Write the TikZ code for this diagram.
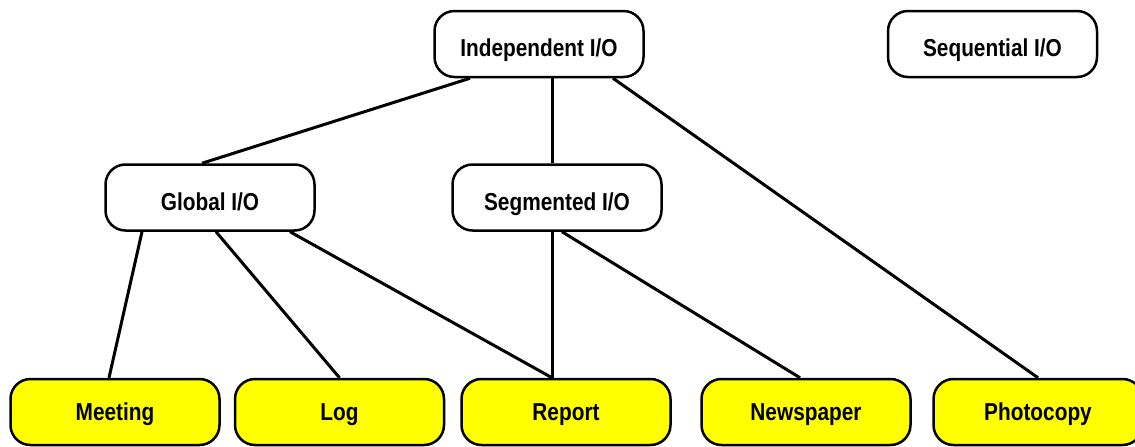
\documentclass[tikz,border=0pt]{standalone}
\usepackage{fontspec}
\setmainfont{Liberation Sans}[FakeStretch=0.85]
\definecolor{leafyellow}{RGB}{255,255,0}
\tikzset{iobox/.style={draw,line width=2.5pt,rounded corners=20pt,minimum width=209pt,minimum height=66pt,text height=25pt,text depth=0pt,font=\fontsize{24.5}{28}\selectfont\bfseries},
    leafbox/.style={iobox,fill=leafyellow,text height=17.5pt}}
\begin{document}
\begin{tikzpicture}[x=1pt,y=-1pt,line width=3pt]
    \useasboundingbox (0,0) rectangle (1135,447);
        \node[iobox] (ind) at (539,44) {Independent I/O};
        \node[iobox] (seq) at (992.5,44) {Sequential I/O};
        \node[iobox] (glob) at (210,197.5) {Global I/O};
        \node[iobox] (seg) at (557,197.5) {Segmented I/O};
    \foreach \nm/\lbl/\x in {meet/Meeting/115, log/Log/339.5, rep/Report/566, news/Newspaper/806, photo/Photocopy/1038} \node[leafbox] (\nm) at (\x,412) {\lbl};
    % links from the top level
        \draw ([xshift=-69pt]ind.south) -- ([xshift=-8pt]glob.north);
        \draw ([xshift=13pt]ind.south) -- ([xshift=-5pt]seg.north);
        \draw ([xshift=74pt]ind.south) -- (photo.north);
    % links to the leaves
        \draw ([xshift=-68pt]glob.south) -- ([xshift=-6pt]meet.north);
        \draw ([xshift=6pt]glob.south) -- (log.north);
        \draw ([xshift=80pt]glob.south) -- ([xshift=-14pt]rep.north);
        \draw ([xshift=-5pt]seg.south) -- ([xshift=-14pt]rep.north);
        \draw ([xshift=5pt]seg.south) -- ([xshift=-6pt]news.north);
    \end{tikzpicture}
\end{document}
